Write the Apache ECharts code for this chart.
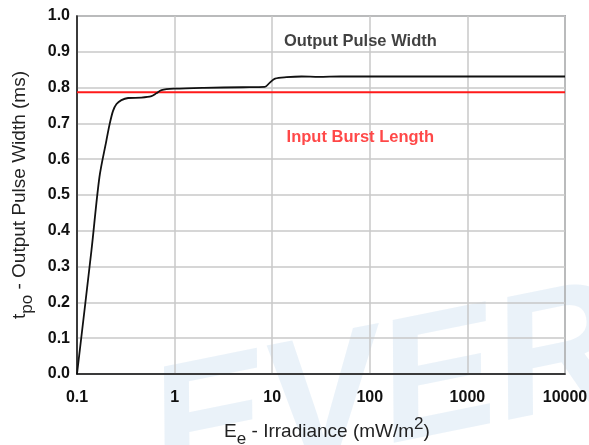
<!DOCTYPE html>
<html>
<head>
<meta charset="utf-8">
<script src="https://cdn.jsdelivr.net/npm/echarts@6/dist/echarts.min.js"></script>
<style>
  html, body { margin: 0; padding: 0; background: #fff; }
  #main { width: 589px; height: 445px; }
</style>
</head>
<body>
<div id="main"></div>
<script>
// irradiance (mW/m2) and output pulse width (ms)
var irradiance = [0.1, 0.1406, 0.1698, 0.2, 0.216, 0.234, 0.254, 0.285, 0.334, 0.457, 0.58, 0.65, 0.734, 1, 2, 5, 8.4, 9.46, 10.7, 14, 20, 30, 50, 10000];
var pulseWidth = [0, 0.345, 0.55, 0.652, 0.698, 0.735, 0.754, 0.765, 0.771, 0.772, 0.776, 0.784, 0.793, 0.797, 0.7995, 0.801, 0.802, 0.814, 0.825, 0.829, 0.831, 0.830, 0.831, 0.831];
var burstLength = 0.787;
var xRange = [0.1, 10000];

var FONT = 'Liberation Sans, Arial, sans-serif';

var curve = [];
for (var i = 0; i < irradiance.length; i++) {
  curve.push([irradiance[i], pulseWidth[i]]);
}

// rich styles for names with sub / superscripts
function nameRich() {
  return {
    m: { fontSize: 19, fontFamily: FONT, color: '#222', padding: [6, 0, 0, 0], verticalAlign: 'top' },
    s: { fontSize: 17, fontFamily: FONT, color: '#222', padding: [15, 0, 0, 0], verticalAlign: 'top' },
    p: { fontSize: 17, fontFamily: FONT, color: '#222', verticalAlign: 'top' }
  };
}

var chart = echarts.init(document.getElementById('main'));
chart.setOption({
  animation: false,
  grid: {
    left: 77, right: 24, top: 16, bottom: 71,
    containLabel: false,
    outerBoundsMode: 'none',
    show: true, borderColor: '#6a7078', borderWidth: 1.5
  },
  graphic: [
    {
      // faint logo watermark
      type: 'text', z: -1, left: 135, top: 262, rotation: 0.2,
      style: {
        text: 'EVER',
        font: 'italic bold 175px ' + FONT,
        fill: 'rgba(170,205,230,0.25)'
      }
    }
  ],
  xAxis: {
    type: 'log',
    logBase: 10,
    min: xRange[0],
    max: xRange[1],
    name: '{m|E}{s|e}{m| - Irradiance (mW/m}{p|2}{m|)}',
    nameLocation: 'middle',
    nameGap: 42,
    nameTextStyle: { rich: nameRich(), padding: [0, 0, 0, 12] },
    axisLine: { lineStyle: { color: '#111', width: 1.5 } },
    axisTick: { show: false },
    minorTick: { show: false },
    axisLabel: {
      color: '#111', fontSize: 16, fontWeight: 'bold', fontFamily: FONT, margin: 16,
      formatter: function (v) { return String(+v.toPrecision(3)); }
    },
    splitLine: { show: true, lineStyle: { color: '#c8c8c8', width: 1.5 } }
  },
  yAxis: {
    type: 'value',
    min: 0, max: 1, interval: 0.1,
    name: '{m|t}{s|po}{m| - Output Pulse Width (ms)}',
    nameLocation: 'middle',
    nameGap: 41,
    nameTextStyle: { rich: nameRich() },
    axisLine: { show: true, lineStyle: { color: '#111', width: 1.5 } },
    axisTick: { show: false },
    axisLabel: {
      color: '#111', fontSize: 16, fontWeight: 'bold', fontFamily: FONT, margin: 7,
      formatter: function (v) { return v.toFixed(1); }
    },
    splitLine: { show: true, lineStyle: { color: '#c8c8c8', width: 1.5 } }
  },
  series: [
    {
      name: 'Output Pulse Width',
      type: 'line',
      data: curve,
      smooth: 0.3,
      symbol: 'none',
      lineStyle: { color: '#111', width: 1.8 },
      z: 4
    },
    {
      name: 'Input Burst Length',
      type: 'line',
      data: [[xRange[0], burstLength], [xRange[1], burstLength]],
      symbol: 'none',
      lineStyle: { color: '#ff1a1a', width: 1.8 },
      z: 3
    },
    {
      type: 'scatter',
      symbolSize: 0,
      silent: true,
      itemStyle: { color: 'transparent' },
      label: {
        show: true,
        position: 'inside',
        fontFamily: FONT, fontSize: 16.5, fontWeight: 'bold',
        formatter: function (p) { return p.name; }
      },
      data: [
        { name: 'Output Pulse Width', value: [80, 0.93], label: { color: '#111' } },
        { name: 'Input Burst Length', value: [80, 0.66], label: { color: '#ff1a1a' } }
      ]
    }
  ]
});
</script>
</body>
</html>
